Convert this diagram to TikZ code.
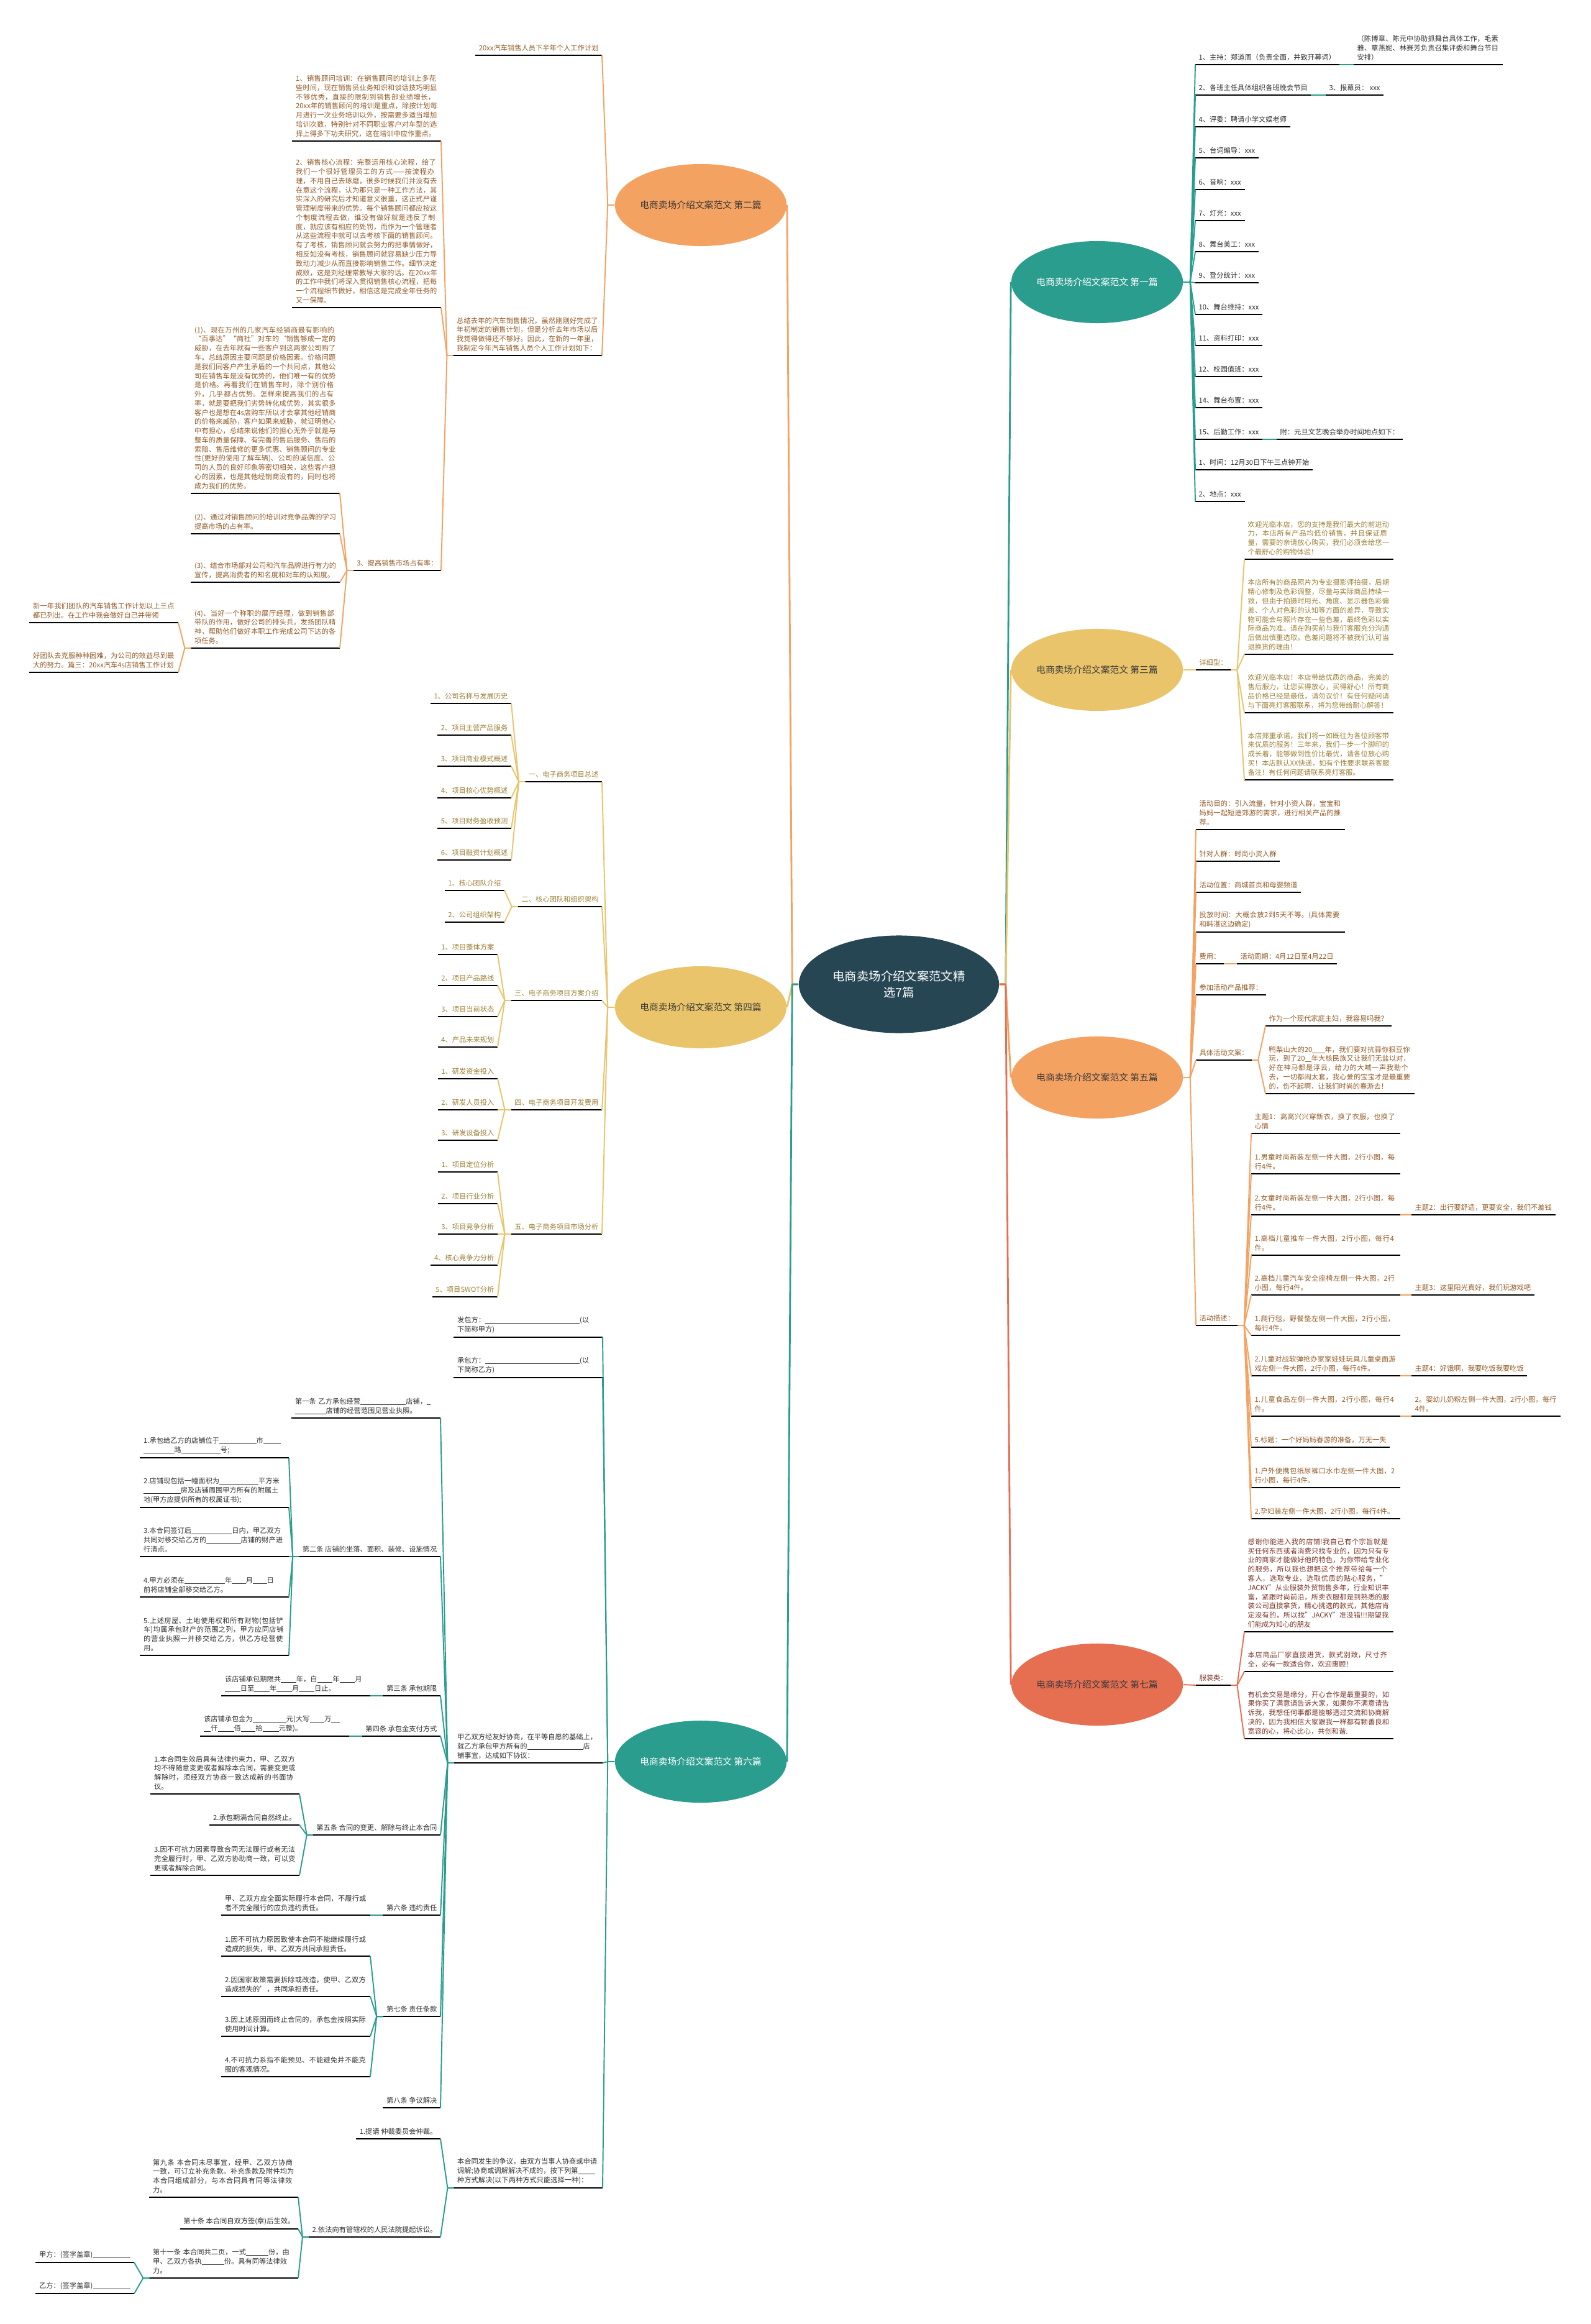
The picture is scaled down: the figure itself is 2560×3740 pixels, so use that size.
\documentclass[tikz,border=0pt]{standalone}
\usepackage{fontspec}
\setmainfont{Noto Sans CJK SC}
\usetikzlibrary{shapes.geometric}
\XeTeXlinebreaklocale "zh"
\XeTeXlinebreakskip=0pt plus 1pt
\definecolor{mmDark}{HTML}{264653}
\definecolor{mmTeal}{HTML}{2A9D8F}
\definecolor{mmYellow}{HTML}{E9C46A}
\definecolor{mmOrange}{HTML}{F4A261}
\definecolor{mmRed}{HTML}{E76F51}
\definecolor{txOrange}{HTML}{935A26}
\definecolor{txYellow}{HTML}{9E8036}
\definecolor{txRed}{HTML}{7A3527}
\definecolor{txGray}{HTML}{303030}
\definecolor{txTopic}{HTML}{3A3A3A}
\newcommand\lfont{\fontsize{3.2pt}{4.2pt}\selectfont}
\newcommand\bfont{\fontsize{4.2pt}{5.5pt}\selectfont}
\newcommand\cfont{\fontsize{5.5pt}{7.6pt}\selectfont}
\newcommand\blnk[1]{\rule[-0.1em]{#1em}{0.05em}}

\begin{document}
\begin{tikzpicture}[x=0.01cm, y=-0.01cm,
    root/.style={ellipse, fill=mmDark, text=white, font=\cfont, align=center,
        minimum width=3.22cm, minimum height=1.57cm, inner sep=0pt},
    topic/.style={ellipse, font=\bfont, minimum width=2.73cm, minimum height=1.32cm, inner sep=0pt},
    leaf/.style={anchor=south west, align=left, font=\lfont, inner xsep=0.05cm, inner ysep=0.06cm,
        append after command={(\tikzlastnode.south west) edge[uline] (\tikzlastnode.south east)}},
    leafl/.style={leaf, anchor=south east},
    para/.style={text width=2.28cm},
    uline/.style={draw=black, line width=0.6pt},
    link/.style={line width=0.55pt, line join=round}
]
    \fill[white] (0,0) rectangle (2560,3740);
    \useasboundingbox (0,0) rectangle (2560,3740);

    % centre and the seven topics
    \node[root] (root) at (1447,1584) {电商卖场介绍文案范文精\\选7篇};
    \node[topic, fill=mmOrange, text=txTopic] (t2) at (1128,330)  {电商卖场介绍文案范文 第二篇};
    \node[topic, fill=mmYellow, text=txTopic] (t4) at (1128,1621) {电商卖场介绍文案范文 第四篇};
    \node[topic, fill=mmTeal,   text=white]   (t6) at (1128,2835) {电商卖场介绍文案范文 第六篇};
    \node[topic, fill=mmTeal,   text=white]   (t1) at (1766,454)  {电商卖场介绍文案范文 第一篇};
    \node[topic, fill=mmYellow, text=txTopic] (t3) at (1766,1078) {电商卖场介绍文案范文 第三篇};
    \node[topic, fill=mmOrange, text=txTopic] (t5) at (1766,1734) {电商卖场介绍文案范文 第五篇};
    \node[topic, fill=mmRed,    text=txTopic] (t7) at (1766,2711) {电商卖场介绍文案范文 第七篇};

    \draw[link, draw=mmTeal,   line width=0.8pt] (root.east) -- ++(10,0) -- (t1.west);
    \draw[link, draw=mmYellow, line width=0.8pt] (root.east) -- ++(10,0) -- (t3.west);
    \draw[link, draw=mmOrange, line width=0.8pt] (root.east) -- ++(10,0) -- (t5.west);
    \draw[link, draw=mmRed,    line width=0.8pt] (root.east) -- ++(10,0) -- (t7.west);
    \draw[link, draw=mmOrange, line width=0.8pt] (root.west) -- ++(-10,0) -- (t2.east);
    \draw[link, draw=mmYellow, line width=0.8pt] (root.west) -- ++(-10,0) -- (t4.east);
    \draw[link, draw=mmTeal,   line width=0.8pt] (root.west) -- ++(-10,0) -- (t6.east);

    % 第一篇
    \begin{scope}[lk/.style={link, draw=mmTeal}, leaf/.append style={text=txGray}]
    \node[leaf] (a1)  at (1924,104) {1、主持：郑道周（负责全面，并致开幕词）};
    \node[leaf, para] (a1x) at (2179,104) {（陈博章、陈元中协助抓舞台具体工作，毛素雅、覃燕妮、林赛芳负责召集评委和舞台节目安排）};
    \node[leaf] (a2)  at (1924,153) {2、各班主任具体组织各班晚会节目};
    \node[leaf] (a2x) at (2134,153) {3、报幕员： xxx};
    \node[leaf] (a3)  at (1924,204) {4、评委：聘请小学文娱老师};
    \node[leaf] (a4)  at (1924,254) {5、台词编导：xxx};
    \node[leaf] (a5)  at (1924,305) {6、音响：xxx};
    \node[leaf] (a6)  at (1924,355) {7、灯光：xxx};
    \node[leaf] (a7)  at (1924,405) {8、舞台美工：xxx};
    \node[leaf] (a8)  at (1924,455) {9、登分统计：xxx};
    \node[leaf] (a9)  at (1924,506) {10、舞台维持：xxx};
    \node[leaf] (a10) at (1924,556) {11、资料打印：xxx};
    \node[leaf] (a11) at (1924,606) {12、校园值班：xxx};
    \node[leaf] (a12) at (1924,656) {14、舞台布置：xxx};
    \node[leaf] (a13) at (1924,707) {15、后勤工作：xxx};
    \node[leaf] (a13x) at (2055,707) {附：元旦文艺晚会举办时间地点如下：};
    \node[leaf] (a14) at (1924,756) {1、时间：12月30日下午三点钟开始};
    \node[leaf] (a15) at (1924,807) {2、地点：xxx};
    \foreach \c in {a1,a2,a3,a4,a5,a6,a7,a8,a9,a10,a11,a12,a13,a14,a15}
        \draw[lk] (t1.east) -- ++(11,0) -- (\c.south west);
    \draw[lk] (a1.south east) -- (a1x.south west);
    \draw[lk] (a2.south east) -- (a2x.south west);
    \draw[lk] (a13.south east) -- (a13x.south west);
    \end{scope}

    % 第三篇
    \begin{scope}[lk/.style={link, draw=mmYellow}, leaf/.append style={text=txYellow}]
    \node[leaf] (c0) at (1925,1078) {详细型：};
    \node[leaf, para] (c1) at (2003,900)  {欢迎光临本店，您的支持是我们最大的前进动力，本店所有产品均低价销售，并且保证质量，需要的亲请放心购买，我们必须会给您一个最舒心的购物体验！};
    \node[leaf, para] (c2) at (2003,1053) {本店所有的商品照片为专业摄影师拍摄，后期精心修制及色彩调整，尽量与实际商品持续一致，但由于拍摄时用光、角度、显示器色彩偏差、个人对色彩的认知等方面的差异，导致实物可能会与照片存在一些色差，最终色彩以实际商品为准。请在购买前与我们客服充分沟通后做出慎重选取。色差问题将不被我们认可当退换货的理由！};
    \node[leaf, para] (c3) at (2003,1147) {欢迎光临本店！本店带给优质的商品，完美的售后服力，让您买得放心，买得舒心！所有商品价格已经是最低，请勿议价！有任何疑问请与下面亮灯客服联系，将为您带给耐心解答！};
    \node[leaf, para] (c4) at (2003,1255) {本店郑重承诺，我们将一如既往为各位顾客带来优质的服务！三年来，我们一步一个脚印的成长着，能够做到性价比最优，请各位放心购买！本店默认XX快递，如有个性要求联系客服备注！有任何问题请联系亮灯客服。};
    \draw[lk] (t3.east) -- (c0.south west);
    \foreach \c in {c1,c2,c3,c4}
        \draw[lk] (c0.south east) -- ++(10,0) -- (\c.south west);
    \end{scope}

    % 第五篇
    \begin{scope}[lk/.style={link, draw=mmOrange}, leaf/.append style={text=txOrange}]
    \node[leaf, para] (e1) at (1925,1335) {活动目的：引入流量，针对小资人群，宝宝和妈妈一起短途郊游的需求，进行相关产品的推荐。};
    \node[leaf] (e2) at (1925,1386) {针对人群：时尚小资人群};
    \node[leaf] (e3) at (1925,1436) {活动位置：商城首页和母婴频道};
    \node[leaf, para] (e4) at (1925,1500) {投放时间：大概会放2到5天不等。(具体需要和韩湛这边确定)};
    \node[leaf] (e5) at (1925,1551) {费用：};
    \node[leaf] (e5x) at (1991,1551) {活动周期：4月12日至4月22日};
    \node[leaf] (e6) at (1925,1601) {参加活动产品推荐：};
    \node[leaf] (e7) at (1925,1706) {具体活动文案：};
    \node[leaf] (e7a) at (2037,1651) {作为一个现代家庭主妇，我容易吗我？};
    \node[leaf, para] (e7b) at (2037,1760) {鸭梨山大的20\blnk{1.8}年，我们要对抗蒜你狠豆你玩，到了20\blnk{0.9}年大核民族又让我们无盐以对，好在神马都是浮云，给力的大喊一声我勒个去，一切都闹太套，我心爱的宝宝才是最重要的，伤不起啊，让我们时尚的春游去！};
    \node[leaf] (e8) at (1925,2133) {活动描述：};
    \node[leaf, para] (f1)  at (2014,1824) {主题1：高高兴兴穿新衣，换了衣服，也换了心情};
    \node[leaf, para] (f2)  at (2014,1889) {1.男童时尚新装左侧一件大图，2行小图，每行4件。};
    \node[leaf, para] (f3)  at (2014,1955) {2.女童时尚新装左侧一件大图，2行小图，每行4件。};
    \node[leaf, para] (f4)  at (2014,2020) {1.高档儿童推车一件大图，2行小图，每行4件。};
    \node[leaf, para] (f5)  at (2014,2084) {2.高档儿童汽车安全座椅左侧一件大图，2行小图，每行4件。};
    \node[leaf, para] (f6)  at (2014,2149) {1.爬行毯，野餐垫左侧一件大图，2行小图，每行4件。};
    \node[leaf, para] (f7)  at (2014,2214) {2.儿童对战软弹抢办家家娃娃玩具儿童桌面游戏左侧一件大图，2行小图，每行4件。};
    \node[leaf, para] (f8)  at (2014,2279) {1.儿童食品左侧一件大图，2行小图，每行4件。};
    \node[leaf] (f9)  at (2014,2329) {5.标题：一个好妈妈春游的准备，万无一失};
    \node[leaf, para] (f10) at (2014,2394) {1.户外便携包纸尿裤口水巾左侧一件大图，2行小图，每行4件。};
    \node[leaf, para] (f11) at (2014,2444) {2.孕妇装左侧一件大图，2行小图，每行4件。};
    \node[leaf] (f3x) at (2272,1955) {主题2：出行要舒适，更要安全，我们不差钱};
    \node[leaf] (f5x) at (2272,2084) {主题3：这里阳光真好，我们玩游戏吧};
    \node[leaf] (f7x) at (2272,2214) {主题4：好饿啊，我要吃饭我要吃饭};
    \node[leaf, para] (f8x) at (2272,2279) {2。婴幼儿奶粉左侧一件大图，2行小图，每行4件。};
    \foreach \c in {e1,e2,e3,e4,e5,e6,e7,e8}
        \draw[lk] (t5.east) -- ++(11,0) -- (\c.south west);
    \draw[lk] (e5.south east) -- (e5x.south west);
    \foreach \c in {e7a,e7b}
        \draw[lk] (e7.south east) -- ++(10,0) -- (\c.south west);
    \foreach \c in {f1,f2,f3,f4,f5,f6,f7,f8,f9,f10,f11}
        \draw[lk] (e8.south east) -- ++(10,0) -- (\c.south west);
    \foreach \p in {f3,f5,f7,f8}
        \draw[lk] (\p.south east) -- (\p x.south west);
    \end{scope}

    % 第七篇
    \begin{scope}[lk/.style={link, draw=mmRed}, leaf/.append style={text=txRed}]
    \node[leaf] (g0) at (1925,2712) {服装类：};
    \node[leaf, para] (g1) at (2003,2626) {感谢你能进入我的店铺!我自己有个宗旨就是买任何东西或者消费只找专业的，因为只有专业的商家才能做好他的特色，为你带给专业化的服务，所以我也想把这个推荐带给每一个客人，选取专业，选取优质的贴心服务，"JACKY"从业服装外贸销售多年，行业知识丰富，紧跟时尚前沿，所卖衣服都是到熟悉的服装公司直接拿货，精心挑选的款式，其他店肯定没有的，所以找"JACKY"准没错!!!期望我们能成为知心的朋友};
    \node[leaf, para] (g2) at (2003,2690) {本店商品厂家直接进货，款式别致，尺寸齐全，必有一款适合你，欢迎惠顾！};
    \node[leaf, para] (g3) at (2003,2798) {有机会交易是缘分，开心合作是最重要的，如果你买了满意请告诉大家，如果你不满意请告诉我，我想任何事都是能够透过交流和协商解决的，因为我相信大家跟我一样都有颗善良和宽容的心，将心比心，共创和谐.};
    \draw[lk] (t7.east) -- (g0.south west);
    \foreach \c in {g1,g2,g3}
        \draw[lk] (g0.south east) -- ++(10,0) -- (\c.south west);
    \end{scope}

    % 第二篇
    \begin{scope}[lk/.style={link, draw=mmOrange}, leaf/.append style={text=txOrange}]
    \node[leafl] (h1) at (969,89) {20xx汽车销售人员下半年个人工作计划};
    \node[leafl, para] (h2) at (969,572) {总结去年的汽车销售情况，虽然刚刚好完成了年初制定的销售计划，但是分析去年市场以后我觉得做得还不够好。因此，在新的一年里，我制定今年汽车销售人员个人工作计划如下：};
    \node[leafl, para] (h21) at (710,227) {1、销售顾问培训：在销售顾问的培训上多花些时间，现在销售员业务知识和谈话技巧明显不够优秀，直接的限制到销售部业绩增长，20xx年的销售顾问的培训是重点，除按计划每月进行一次业务培训以外，按需要多适当增加培训次数，特别针对不同职业客户对车型的选择上得多下功夫研究，这在培训中应作重点。};
    \node[leafl, para] (h22) at (710,495) {2、销售核心流程：完整运用核心流程，给了我们一个很好管理员工的方式——按流程办理，不用自己去琢磨，很多时候我们并没有去在意这个流程，认为那只是一种工作方法，其实深入的研究后才知道意义很重，这正式严谨管理制度带来的优势。每个销售顾问都应按这个制度流程去做，谁没有做好就是违反了制度，就应该有相应的处罚，而作为一个管理者从这些流程中就可以去考核下面的销售顾问。有了考核，销售顾问就会努力的把事情做好，相反如没有考核，销售顾问就容易缺少压力导致动力减少从而直接影响销售工作。细节决定成败，这是刘经理常教导大家的话。在20xx年的工作中我们将深入贯彻销售核心流程，把每一个流程细节做好，相信这是完成全年任务的又一保障。};
    \node[leafl] (h23) at (710,918) {3、提高销售市场占有率：};
    \node[leafl, para] (k1) at (547,794) {(1)、现在万州的几家汽车经销商最有影响的“百事达”“商社”对车的‘销售够成一定的威胁，在去年就有一些客户到这两家公司购了车。总结原因主要问题是价格因素。价格问题是我们同客户产生矛盾的一个共同点，其他公司在销售车是没有优势的，他们唯一有的优势是价格。再看我们在销售车时，除个别价格外，几乎都占优势。怎样来提高我们的占有率，就是要把我们劣势转化成优势，其实很多客户也是想在4s店购车所以才会拿其他经销商的价格来威胁，客户如果来威胁，就证明他心中有担心，总结来说他们的担心无外乎就是与整车的质量保障、有完善的售后服务、售后的索赔、售后维修的更多优惠、销售顾问的专业性(更好的使用了解车辆)、公司的诚信度、公司的人员的良好印象等密切相关，这些客户担心的因素，也是其他经销商没有的，同时也将成为我们的优势。};
    \node[leafl, para] (k2) at (547,859) {(2)、通过对销售顾问的培训对竞争品牌的学习提高市场的占有率。};
    \node[leafl, para] (k3) at (547,937) {(3)、结合市场部对公司和汽车品牌进行有力的宣传，提高消费者的知名度和对车的认知度。};
    \node[leafl, para] (k4) at (547,1043) {(4)、当好一个称职的展厅经理，做到销售部带队的作用，做好公司的排头兵。发扬团队精神，帮助他们做好本职工作完成公司下达的各项任务。};
    \node[leafl, para] (m1) at (287,1002) {新一年我们团队的汽车销售工作计划以上三点都已列出。在工作中我会做好自己并带领};
    \node[leafl, para] (m2) at (287,1082) {好团队去克服种种困难，为公司的效益尽到最大的努力。篇三：20xx汽车4s店销售工作计划};
    \foreach \c in {h1,h2}
        \draw[lk] (t2.west) -- ++(-11,0) -- (\c.south east);
    \foreach \c in {h21,h22,h23}
        \draw[lk] (h2.south west) -- ++(-10,0) -- (\c.south east);
    \foreach \c in {k1,k2,k3,k4}
        \draw[lk] (h23.south west) -- ++(-10,0) -- (\c.south east);
    \foreach \c in {m1,m2}
        \draw[lk] (k4.south west) -- ++(-10,0) -- (\c.south east);
    \end{scope}

    % 第四篇
    \begin{scope}[lk/.style={link, draw=mmYellow}, leaf/.append style={text=txYellow}]
    \node[leafl] (n1) at (969,1258) {一、电子商务项目总述};
    \node[leafl] (n2) at (969,1459) {二、核心团队和组织架构};
    \node[leafl] (n3) at (969,1610) {三、电子商务项目方案介绍};
    \node[leafl] (n4) at (969,1786) {四、电子商务项目开发费用};
    \node[leafl] (n5) at (969,1986) {五、电子商务项目市场分析};
    \node[leafl] (n11) at (823,1132) {1、公司名称与发展历史};
    \node[leafl] (n12) at (823,1183) {2、项目主营产品服务};
    \node[leafl] (n13) at (823,1233) {3、项目商业模式概述};
    \node[leafl] (n14) at (823,1284) {4、项目核心优势概述};
    \node[leafl] (n15) at (823,1333) {5、项目财务盈收预测};
    \node[leafl] (n16) at (823,1384) {6、项目融资计划概述};
    \node[leafl] (n21) at (812,1433) {1、核心团队介绍};
    \node[leafl] (n22) at (812,1484) {2、公司组织架构};
    \node[leafl] (n31) at (801,1536) {1、项目整体方案};
    \node[leafl] (n32) at (801,1586) {2、项目产品路线};
    \node[leafl] (n33) at (801,1636) {3、项目当前状态};
    \node[leafl] (n34) at (801,1685) {4、产品未来规划};
    \node[leafl] (n41) at (801,1736) {1、研发资金投入};
    \node[leafl] (n42) at (801,1786) {2、研发人员投入};
    \node[leafl] (n43) at (801,1835) {3、研发设备投入};
    \node[leafl] (n51) at (801,1886) {1、项目定位分析};
    \node[leafl] (n52) at (801,1937) {2、项目行业分析};
    \node[leafl] (n53) at (801,1986) {3、项目竞争分析};
    \node[leafl] (n54) at (801,2036) {4、核心竞争力分析};
    \node[leafl] (n55) at (801,2087) {5、项目SWOT分析};
    \foreach \c in {n1,n2,n3,n4,n5}
        \draw[lk] (t4.west) -- ++(-11,0) -- (\c.south east);
    \foreach \c in {n11,n12,n13,n14,n15,n16}
        \draw[lk] (n1.south west) -- ++(-10,0) -- (\c.south east);
    \foreach \c in {n21,n22}
        \draw[lk] (n2.south west) -- ++(-10,0) -- (\c.south east);
    \foreach \c in {n31,n32,n33,n34}
        \draw[lk] (n3.south west) -- ++(-10,0) -- (\c.south east);
    \foreach \c in {n41,n42,n43}
        \draw[lk] (n4.south west) -- ++(-10,0) -- (\c.south east);
    \foreach \c in {n51,n52,n53,n54,n55}
        \draw[lk] (n5.south west) -- ++(-10,0) -- (\c.south east);
    \end{scope}

    % 第六篇
    \begin{scope}[lk/.style={link, draw=mmTeal}, leaf/.append style={text=txGray}]
    \node[leafl, para] (p1) at (970,2152) {发包方：\blnk{13.5}(以\\下简称甲方)};
    \node[leafl, para] (p2) at (970,2217) {承包方：\blnk{13.5}(以\\下简称乙方)};
    \node[leafl, para] (p3) at (970,2837) {甲乙双方经友好协商，在平等自愿的基础上，\\就乙方承包甲方所有的\blnk{8}店\\铺事宜，达成如下协议：};
    \node[leafl, para] (p4) at (970,3521) {本合同发生的争议，由双方当事人协商或申请\\调解;协商或调解解决不成的，按下列第\blnk{2.4}\\种方式解决(以下两种方式只能选择一种)：};
    \node[leafl, para] (q1) at (709,2282) {第一条 乙方承包经营\blnk{6.5}店铺，\blnk{0.5}\\\blnk{4.4}店铺的经营范围见营业执照。};
    \node[leafl] (q2) at (709,2505) {第二条 店铺的坐落、面积、装修、设施情况};
    \node[leafl] (q3) at (709,2729) {第三条 承包期限};
    \node[leafl] (q4) at (709,2794) {第四条 承包金支付方式};
    \node[leafl] (q5) at (709,2953) {第五条 合同的变更、解除与终止本合同};
    \node[leafl] (q6) at (709,3082) {第六条 违约责任};
    \node[leafl] (q7) at (709,3245) {第七条 责任条款};
    \node[leafl] (q8) at (709,3392) {第八条 争议解决};
    \node[leafl, para] (r1) at (465,2346) {1.承包给乙方的店铺位于\blnk{5.3}市\blnk{2.5}\\\blnk{4.4}路\blnk{5.6}号;};
    \node[leafl, para] (r2) at (465,2426) {2.店铺现包括一幢面积为\blnk{5.6}平方米\\\blnk{5.3}房及店铺周围甲方所有的附属土\\地(甲方应提供所有的权属证书);};
    \node[leafl, para] (r3) at (465,2505) {3.本合同签订后\blnk{5.8}日内，甲乙双方\\共同对移交给乙方的\blnk{4.9}店铺的财产进\\行清点。};
    \node[leafl, para] (r4) at (465,2570) {4.甲方必须在\blnk{5.8}年\blnk{2}月\blnk{2}日\\前将店铺全部移交给乙方。};
    \node[leafl, para] (r5) at (465,2664) {5.上述房屋、土地使用权和所有财物(包括铲车)均属承包财产的范围之列，甲方应同店铺的营业执照一并移交给乙方，供乙方经营使用。};
    \node[leafl, para] (q3x) at (596,2729) {该店铺承包期限共\blnk{2.2}年，自\blnk{2.2}年\blnk{2.2}月\\\blnk{2.2}日至\blnk{2.2}年\blnk{2.2}月\blnk{2.2}日止。};
    \node[leafl, para] (q4x) at (562,2794) {该店铺承包金为\blnk{4.8}元(大写\blnk{2.1}万\blnk{1.2}\\\blnk{1}仟\blnk{2.3}佰\blnk{2.1}拾\blnk{2.3}元整)。};
    \node[leafl, para] (s1) at (482,2887) {1.本合同生效后具有法律约束力，甲、乙双方均不得随意变更或者解除本合同，需要变更或解除时，须经双方协商一致达成新的书面协议。};
    \node[leafl] (s2) at (482,2937) {2.承包期满合同自然终止。};
    \node[leafl, para] (s3) at (482,3018) {3.因不可抗力因素导致合同无法履行或者无法完全履行时，甲、乙双方协助商一致，可以变更或者解除合同。};
    \node[leafl, para] (q6x) at (596,3082) {甲、乙双方应全面实际履行本合同，不履行或者不完全履行的应负违约责任。};
    \node[leafl, para] (v71) at (596,3148) {1.因不可抗力原因致使本合同不能继续履行或造成的损失，甲、乙双方共同承担责任。};
    \node[leafl, para] (v72) at (596,3213) {2.因国家政策需要拆除或改造，使甲、乙双方造成损失的'，共同承担责任。};
    \node[leafl, para] (v73) at (596,3277) {3.因上述原因而终止合同的，承包金按照实际使用时间计算。};
    \node[leafl, para] (v74) at (596,3342) {4.不可抗力系指不能预见、不能避免并不能克服的客观情况。};
    \node[leafl] (u1) at (709,3442) {1.提请 仲裁委员会仲裁。};
    \node[leafl] (u2) at (709,3600) {2.依法向有管辖权的人民法院提起诉讼。};
    \node[leafl, para] (w1) at (480,3536) {第九条 本合同未尽事宜，经甲、乙双方协商一致，可订立补充条款。补充条款及附件均为本合同组成部分，与本合同具有同等法律效力。};
    \node[leafl] (w2) at (480,3587) {第十条 本合同自双方签(章)后生效。};
    \node[leafl, para] (w3) at (480,3666) {第十一条 本合同共二页，一式\blnk{3.2}份，由\\甲、乙双方各执\blnk{3.2}份。具有同等法律效\\力。};
    \node[leafl] (z1) at (216,3641) {甲方：(签字盖章)\blnk{5.4}};
    \node[leafl] (z2) at (216,3691) {乙方：(签字盖章)\blnk{5.4}};
    \foreach \c in {p1,p2,p3,p4}
        \draw[lk] (t6.west) -- ++(-11,0) -- (\c.south east);
    \foreach \c in {q1,q2,q3,q4,q5,q6,q7,q8}
        \draw[lk] (p3.south west) -- ++(-10,0) -- (\c.south east);
    \foreach \c in {r1,r2,r3,r4,r5}
        \draw[lk] (q2.south west) -- ++(-10,0) -- (\c.south east);
    \draw[lk] (q3.south west) -- (q3x.south east);
    \draw[lk] (q4.south west) -- (q4x.south east);
    \draw[lk] (q6.south west) -- (q6x.south east);
    \foreach \c in {s1,s2,s3}
        \draw[lk] (q5.south west) -- ++(-10,0) -- (\c.south east);
    \foreach \c in {v71,v72,v73,v74}
        \draw[lk] (q7.south west) -- ++(-10,0) -- (\c.south east);
    \foreach \c in {u1,u2}
        \draw[lk] (p4.south west) -- ++(-10,0) -- (\c.south east);
    \foreach \c in {w1,w2,w3}
        \draw[lk] (u2.south west) -- ++(-10,0) -- (\c.south east);
    \foreach \c in {z1,z2}
        \draw[lk] (w3.south west) -- ++(-10,0) -- (\c.south east);
    \end{scope}
\end{tikzpicture}
\end{document}
